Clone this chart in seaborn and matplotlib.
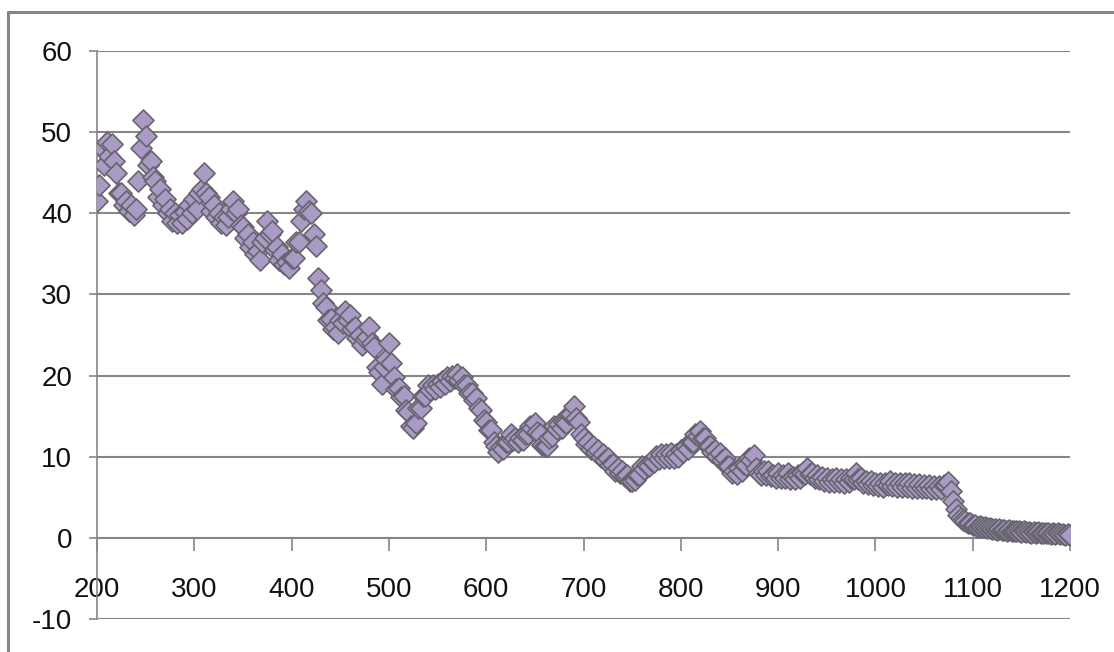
import numpy as np
import pandas as pd
import matplotlib
matplotlib.use("Agg")
import matplotlib.pyplot as plt
import seaborn as sns
from matplotlib.lines import Line2D

sns.set_style("white")
plt.rcParams['font.family'] = ['Liberation Sans Narrow', 'Liberation Sans', 'DejaVu Sans']
plt.rcParams['axes.unicode_minus'] = False

# x every 2.5 units from 200 to 1200
x_vals = np.arange(200, 1200.1, 2.5)
y_vals = [
    41.5, 43.5, 48, 46, 48.8, 47, 48.5, 46.5, 45, 42.5, 42.5, 41, 41.5, 40.3, 41, 39.8, 40.5, 44, 48, 51.5, 49.5,
    46, 46.5, 44.5, 44, 42, 43, 41, 41.8, 40, 40.5, 39, 40, 38.8, 39.8, 38.8, 40.2, 39.3, 41, 40, 41.8,
    40.5, 42.5, 43, 45, 42.5, 42, 40.3, 41, 39.5, 40, 38.8, 39.5, 38.5, 39.5, 40.5, 41.5, 40, 40.5, 38.5, 38.3,
    37, 37.5, 35.8, 36.5, 35, 35.3, 34.3, 36.5, 37, 39, 37.5, 37.8, 35.5, 35.8, 34.3, 35, 33.8, 34, 33.3, 34.5,
    34.5, 36.5, 36.5, 39, 40.5, 41.5, 40.3, 40, 37.5, 36, 32, 30.5, 29, 28.5, 26.8, 27, 25.8, 26, 25.3, 26.8,
    26.5, 28, 26.8, 27.5, 25.8, 26, 24.6, 25, 23.8, 24.5, 24.8, 26, 24, 23.5, 21, 20.5, 19, 21, 22, 24,
    21.5, 19.8, 18.3, 18.5, 17.3, 17.5, 15.8, 15.5, 13.8, 13.5, 14.2, 16, 16, 17.5, 17.5, 18.8, 18.2, 18.8, 18.4, 19,
    18.6, 19.3, 19, 19.8, 19.3, 20, 19.7, 20.2, 19.5, 19.8, 18.8, 18.8, 17.8, 17.8, 17, 17.2, 16, 15.8, 14.5, 14.3,
    13.3, 13.3, 11.8, 11.3, 10.6, 11.2, 11, 11.8, 11.8, 12.8, 12, 12.3, 11.8, 12.3, 12, 12.8, 12.8, 13.8, 13.5, 14.2,
    13, 12.8, 11.5, 11.3, 11.3, 12.3, 12.5, 13.8, 13.4, 14, 13.6, 14.3, 14.2, 15.3, 15.3, 16.2, 14.8, 14.3, 12.8, 12.3,
    11.6, 11.8, 11, 11.3, 10.6, 10.8, 10, 10.3, 9.6, 9.8, 9, 9.1, 8.3, 8.6, 8, 8.3, 7.6, 7.8, 7, 7,
    7.1, 7.8, 7.8, 8.8, 8.5, 9, 8.8, 9.5, 9.3, 10.1, 9.7, 10.3, 9.8, 10.3, 9.9, 10.5, 9.9, 10.3, 10, 10.8,
    10.6, 11.3, 11, 11.8, 11.8, 12.8, 12.5, 13.2, 12.3, 12.3, 11.3, 11.3, 10.6, 10.8, 10.1, 10.5, 9.6, 9.8, 8.8, 8.8,
    8, 8.3, 7.9, 8.6, 8.3, 9.1, 9, 9.8, 9.6, 10.2, 8.6, 8, 7.7, 8.2, 7.8, 8.3, 7.6, 7.8, 7.4, 8,
    7.4, 7.8, 7.4, 8, 7.3, 7.5, 7.2, 7.8, 7.4, 8, 7.9, 8.6, 7.9, 8, 7.4, 7.7, 7.2, 7.5, 7, 7.4,
    6.9, 7.2, 6.9, 7.4, 6.9, 7.2, 6.8, 7.2, 6.9, 7.4, 7.3, 8, 7.3, 7.4, 6.8, 7, 6.6, 7, 6.5, 6.8,
    6.4, 6.8, 6.3, 6.7, 6.5, 7, 6.4, 6.7, 6.3, 6.8, 6.3, 6.7, 6.3, 6.7, 6.2, 6.6, 6.2, 6.6, 6.1, 6.5,
    6.1, 6.5, 6, 6.4, 6, 6.4, 6, 6.5, 6.5, 6.9, 5.8, 4.5, 3.5, 2.8, 2.5, 2.2, 2.1, 1.8, 1.8, 1.6,
    1.6, 1.4, 1.45, 1.3, 1.35, 1.2, 1.25, 1.1, 1.15, 1.0, 1.1, 0.95, 1.0, 0.9, 0.95, 0.85, 0.9, 0.8, 0.85, 0.75,
    0.8, 0.7, 0.75, 0.65, 0.75, 0.65, 0.7, 0.6, 0.65, 0.55, 0.6, 0.5, 0.55, 0.45, 0.55, 0.45, 0.5, 0.4, 0.45, 0.4,
]
y_ticks = [-10, 0, 10, 20, 30, 40, 50, 60]
x_ticks = [200, 300, 400, 500, 600, 700, 800, 900, 1000, 1100, 1200]

df = pd.DataFrame({'x': x_vals, 'y': y_vals})

grey = '#868686'
fig = plt.figure(figsize=(11.14, 6.52), dpi=100)
ax = fig.add_axes([0.0871, 0.0506, 0.8734, 0.8712])

sns.scatterplot(data=df, x='x', y='y', ax=ax, marker='D', s=115,
                color='#A99BC4', edgecolor='#67646F', linewidth=1.2,
                zorder=3, legend=False)

ax.set_xlim(200, 1200)
ax.set_ylim(-10, 60)
ax.set_yticks(y_ticks)
ax.set_xticks(x_ticks)
ax.set_xlabel('')
ax.set_ylabel('')

ax.yaxis.grid(True, color=grey, linewidth=1.5)
ax.xaxis.grid(False)
for s in ['top', 'right']:
    ax.spines[s].set_visible(False)
ax.spines['left'].set_color(grey)
ax.spines['left'].set_linewidth(1.2)
ax.spines['bottom'].set_position(('data', 0))
ax.spines['bottom'].set_color(grey)
ax.spines['bottom'].set_linewidth(1.2)

ax.tick_params(axis='y', direction='out', length=6, width=1.2, color=grey,
               labelsize=20, pad=12, left=True)
ax.tick_params(axis='x', direction='out', length=9, width=1.2, color=grey,
               labelsize=20, pad=19, bottom=True)
for lab in ax.get_xticklabels() + ax.get_yticklabels():
    lab.set_color('#111111')

# outer chart border (left and top)
fig.add_artist(Line2D([8 / 1114, 8 / 1114], [0, 1 - 12 / 652],
                      color=grey, linewidth=2.2, transform=fig.transFigure))
fig.add_artist(Line2D([8 / 1114, 1], [1 - 12 / 652, 1 - 12 / 652],
                      color=grey, linewidth=2.2, transform=fig.transFigure))

fig.savefig('out.png', dpi=100)
